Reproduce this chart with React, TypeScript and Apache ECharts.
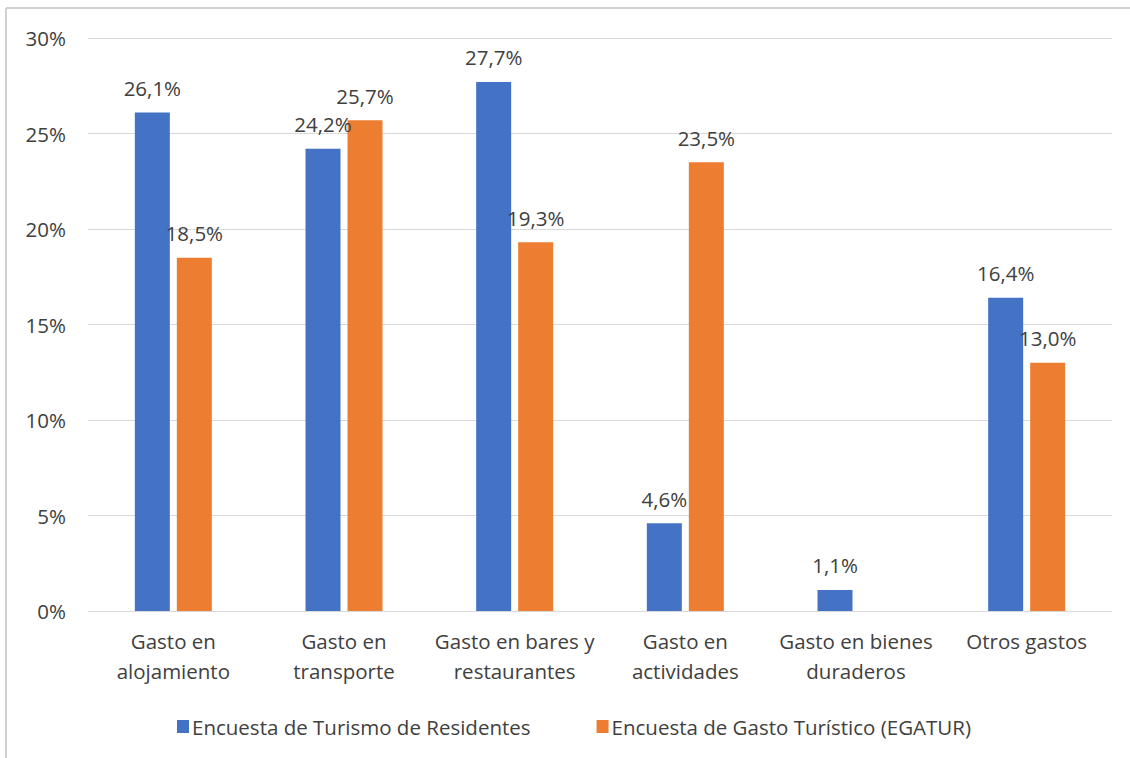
import React, { useEffect, useRef } from "react";
import * as echarts from "echarts";

const categories = [
  "Gasto en\nalojamiento",
  "Gasto en\ntransporte",
  "Gasto en bares y\nrestaurantes",
  "Gasto en\nactividades",
  "Gasto en bienes\nduraderos",
  "Otros gastos",
];
const residentes = [26.1, 24.2, 27.7, 4.6, 1.1, 16.4];
const egatur: (number | null)[] = [18.5, 25.7, 19.3, 23.5, null, 13.0];
const seriesNames = [
  "Encuesta de Turismo de Residentes",
  "Encuesta de Gasto Turístico (EGATUR)",
];

const FONT = "'Open Sans', 'Noto Sans', sans-serif";
const TEXT = "#404040";
const FS = 20.5;

export default function App() {
  const ref = useRef<HTMLDivElement>(null);
  useEffect(() => {
    if (!ref.current) return;
    const chart = echarts.init(ref.current, null, { renderer: "svg" });
    const fmt = (p: any) =>
      p.value == null ? "" : Number(p.value).toFixed(1).replace(".", ",") + "%";
    chart.setOption({
      animation: false,
      backgroundColor: "#ffffff",
      textStyle: { fontFamily: FONT },
      graphic: [
        { type: "line", shape: { x1: 6, y1: 8, x2: 1130, y2: 8 }, style: { stroke: "#d0d0d0", lineWidth: 2 } },
        { type: "line", shape: { x1: 6, y1: 8, x2: 6, y2: 758 }, style: { stroke: "#d0d0d0", lineWidth: 2 } },
      ],
      grid: { left: 88, right: 18, top: 38, bottom: 147, containLabel: false },
      legend: {
        top: 711,
        left: 172,
        itemWidth: 12,
        itemHeight: 13,
        itemGap: 66,
        icon: "rect",
        textStyle: { color: TEXT, fontSize: FS, fontFamily: FONT, padding: [0, 0, 0, -2] },
        data: seriesNames,
      },
      xAxis: {
        type: "category",
        data: categories,
        axisLine: { lineStyle: { color: "#d9d9d9", width: 1 } },
        axisTick: { show: false },
        axisLabel: {
          color: TEXT,
          fontSize: FS,
          lineHeight: 30,
          margin: 15,
          interval: 0,
          fontFamily: FONT,
        },
      },
      yAxis: {
        type: "value",
        min: 0,
        max: 30,
        interval: 5,
        axisLine: { show: false },
        axisTick: { show: false },
        splitLine: { lineStyle: { color: "#d9d9d9", width: 1 } },
        axisLabel: {
          color: TEXT,
          fontSize: FS,
          margin: 22,
          fontFamily: FONT,
          formatter: (v: number) => v + "%",
        },
      },
      series: [
        {
          name: seriesNames[0],
          type: "bar",
          data: residentes,
          barWidth: 35,
          barGap: "20%",
          itemStyle: { color: "#4472C4" },
          label: {
            show: true,
            position: "top",
            distance: 14,
            color: TEXT,
            fontSize: FS,
            fontFamily: FONT,
            formatter: fmt,
          },
        },
        {
          name: seriesNames[1],
          type: "bar",
          data: egatur,
          barWidth: 35,
          barGap: "20%",
          itemStyle: { color: "#ED7D31" },
          label: {
            show: true,
            position: "top",
            distance: 14,
            color: TEXT,
            fontSize: FS,
            fontFamily: FONT,
            formatter: fmt,
          },
        },
      ],
    });
    return () => chart.dispose();
  }, []);
  return (
    <div
      ref={ref}
      style={{ position: "fixed", left: 0, top: 0, width: 1130, height: 758 }}
    />
  );
}
